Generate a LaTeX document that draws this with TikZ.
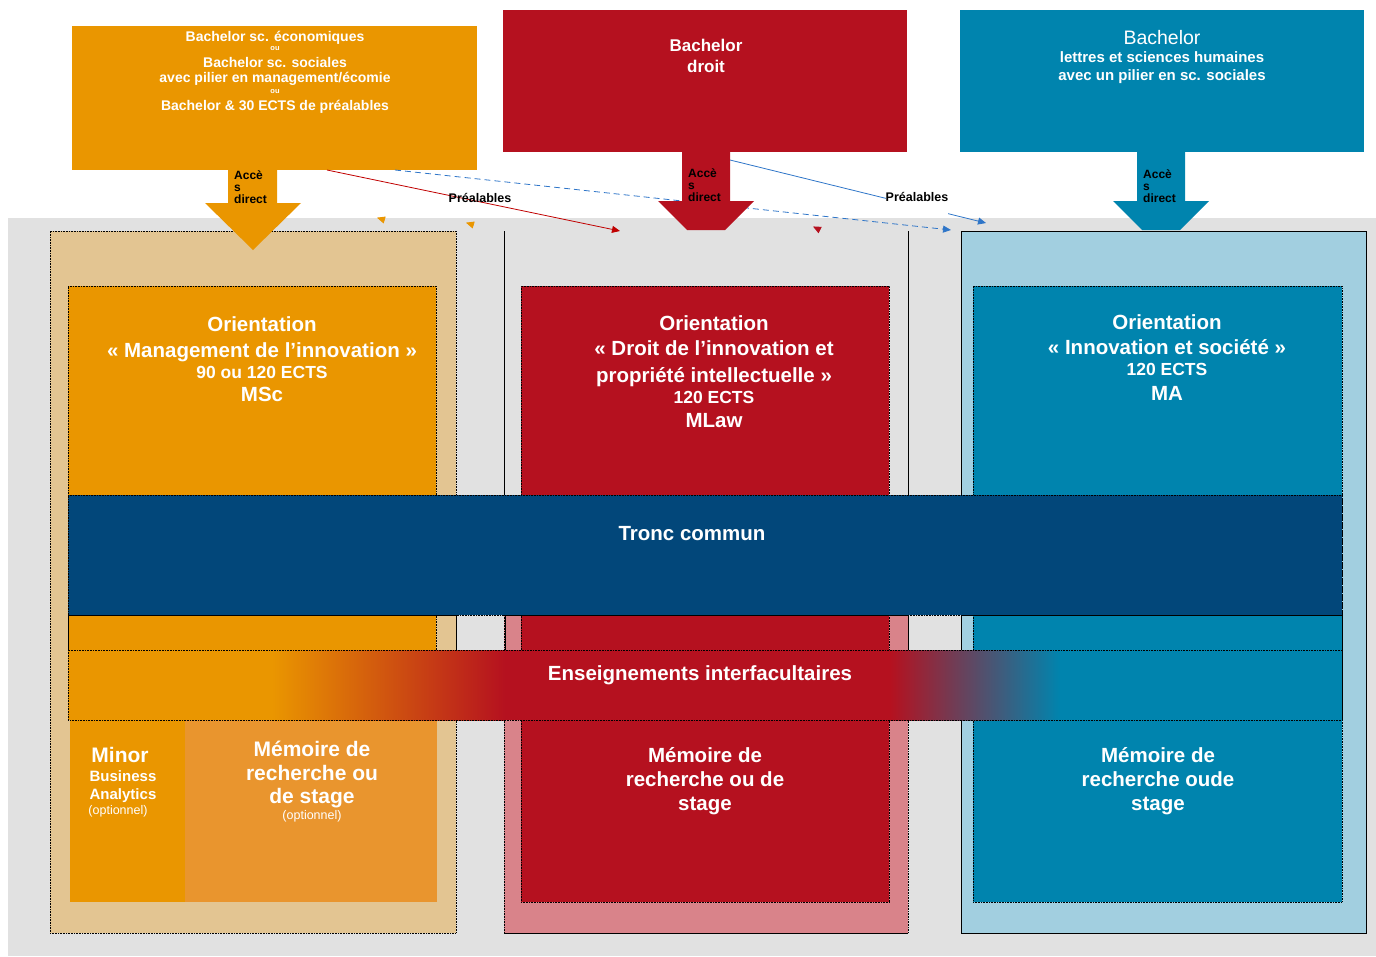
\documentclass[tikz,border=0pt]{standalone}
\usepackage{fontspec}
\setmainfont{Liberation Sans}
\usetikzlibrary{positioning,arrows.meta}
\definecolor{orMain}{RGB}{234,150,0}
\definecolor{orLight}{RGB}{233,149,46}
\definecolor{orPale}{RGB}{227,197,146}
\definecolor{rdMain}{RGB}{181,17,31}
\definecolor{rdPale}{RGB}{217,131,138}
\definecolor{blMain}{RGB}{0,132,174}
\definecolor{blPale}{RGB}{162,207,224}
\definecolor{trNavy}{RGB}{2,71,122}
\definecolor{bgGrey}{RGB}{225,225,225}
\definecolor{lnBlue}{RGB}{46,117,200}
\definecolor{lnRed}{RGB}{192,0,0}
\newcommand{\fsz}[1]{\fontsize{#1}{#1}\selectfont}
\tikzset{
  box/.style={inner sep=0pt, outer sep=0pt, anchor=north west},
  ln/.style={text=white, font=\fsz{#1}\bfseries, inner sep=0pt, text height=0.72*#1pt, text depth=0pt},
  acc/.style={font=\fsz{12}\bfseries, align=left, inner sep=0pt, anchor=north west},
  prl/.style={font=\fsz{12.5}\bfseries, inner sep=0pt},
  tip/.style={-{Triangle[length=8pt,width=7pt]}, line width=0.8pt},
  dots/.style={draw, densely dotted, line width=0.6pt}
}

\begin{document}
\begin{tikzpicture}[x=1pt, y=-1pt]
        \useasboundingbox (0,0) rectangle (1376,956);
        \fill[bgGrey] (8,218) rectangle (1376,956);

        % bachelors
        \node[box, fill=orMain, minimum width=405pt, minimum height=144pt] (BE) at (72,26) {};
        \node[box, fill=rdMain, minimum width=404pt, minimum height=142pt] (BD) at (503,10) {};
        \node[box, fill=blMain, minimum width=404pt, minimum height=142pt] (BL) at (960,10) {};

        \node[ln=14] (BE1) at ([shift={(0.5,10)}]BE.north) {Bachelor sc. économiques};
        \node[ln=7.5, on grid, below=12pt of BE1] (BE2) {ou};
        \node[ln=14, on grid, below=14pt of BE2] (BE3) {Bachelor sc. sociales};
        \node[ln=14, on grid, below=15pt of BE3] (BE4) {avec pilier en management/écomie};
        \node[ln=7.5, on grid, below=14pt of BE4] (BE5) {ou};
        \node[ln=14, on grid, below=14pt of BE5] (BE6) {Bachelor \& 30 ECTS de préalables};

        \node[ln=17] (BD1) at ([shift={(1,35)}]BD.north) {Bachelor};
        \node[ln=17, on grid, below=21pt of BD1] (BD2) {droit};

        \node[ln=19.5, font=\fsz{19.5}] (BL1) at ([shift={(0,27)}]BL.north) {Bachelor};
        \node[ln=15, on grid, below=20pt of BL1] (BL2) {lettres et sciences humaines};
        \node[ln=15, on grid, below=18pt of BL2] (BL3) {avec un pilier en sc. sociales};

        % prealables
        \coordinate (RedEnd) at (620,231);
        \coordinate (DashEnd) at (951,230);
        \coordinate (ShaftD) at (730,160);
        \coordinate (BlueEnd) at (986,223);
        \draw[tip, lnRed] ([xshift=255pt]BE.south west) -- (RedEnd);
        \draw[tip, lnBlue, dash pattern=on 6pt off 4pt] ([xshift=323pt]BE.south west) -- (DashEnd);
        \draw[tip, lnBlue] (ShaftD) -- (BlueEnd);
        \node[prl] (PrA) at (480,198) {Préalables};
        \node[prl, fill=white, anchor=base, text height=9pt, text depth=14pt] (PrB) at (917,201.5) {Préalables};

        \coordinate (TipA) at (378,218);
        \coordinate (TipB) at (467,223);
        \coordinate (TipC) at (814,227);
        \draw[tip, orMain] (TipA) -- ++(-1,-0.3);
        \draw[tip, orMain] (TipB) -- ++(-1,-0.3);
        \draw[tip, rdMain] (TipC) -- ++(-1,-0.5);

        % columns
        \node[box, fill=orPale, dots, minimum width=406pt, minimum height=702pt] (CM) at (50,231) {};
        \node[box, minimum width=404pt, minimum height=702pt] (CD) at (504,231) {};
        \fill[rdPale] ([yshift=-384pt]CD.north west) rectangle (CD.south east);
        \draw[line width=0.8pt] (CD.north west) -- ++(0,384);
        \draw[line width=0.8pt] (CD.north east) -- ++(0,384);
        \draw[densely dotted, line width=0.6pt] ([yshift=-384pt]CD.north west) -- (CD.south west);
        \draw[densely dotted, line width=0.6pt] ([yshift=-384pt]CD.north east) -- (CD.south east);
        \draw[line width=1pt] (CD.south west) -- (CD.south east);
        \node[box, fill=blPale, draw, line width=0.8pt, minimum width=405pt, minimum height=702pt] (CL) at (961,231) {};

        % acces direct
        \fill[orMain] (228,170) -- (277,170) -- (277,203) -- (301,203) -- (253,250) -- (205,203) -- (228,203) -- cycle;
        \fill[rdMain] (682,152) -- (730,152) -- (730,201) -- (754,201) -- (725,230) -- (687,230) -- (658,201) -- (682,201) -- cycle;
        \fill[blMain] (1137,152) -- (1185,152) -- (1185,201) -- (1209,201) -- (1180,230) -- (1142,230) -- (1113,201) -- (1137,201) -- cycle;
        \node[acc] (AE) at (234,170) {Accè\\s\\direct};
        \node[acc] (AD) at (688,168) {Accè\\s\\direct};
        \node[acc] (AL) at (1143,169) {Accè\\s\\direct};

        % orientations
        \node[box, fill=orMain, dots, minimum width=368pt, minimum height=364pt] (OM) at (68,286) {};
        \node[box, fill=orMain, minimum width=115pt, minimum height=182pt] (MN) at (70,720) {};
        \node[box, fill=orLight, minimum width=252pt, minimum height=182pt] (MM) at (185,720) {};
        \node[box, fill=rdMain, dots, minimum width=368pt, minimum height=616pt] (OD) at (521,286) {};
        \node[box, fill=blMain, dots, minimum width=369pt, minimum height=616pt] (OL) at (973,286) {};
        \draw[line width=0.8pt] (68,615) rectangle (456,650);
        \draw[line width=0.8pt] (505,615) rectangle (908,650);
        \draw[line width=0.8pt] (961,615) rectangle (1342,650);

        \node[ln=20.5] (OM1) at ([shift={(10,38)}]OM.north) {Orientation};
        \node[ln=20.5, on grid, below=26pt of OM1] (OM2) {« Management de l’innovation »};
        \node[ln=17.5, on grid, below=22pt of OM2] (OM3) {90 ou 120 ECTS};
        \node[ln=20.5, on grid, below=22pt of OM3] (OM4) {MSc};

        \node[ln=20.5] (OD1) at ([shift={(9,37)}]OD.north) {Orientation};
        \node[ln=20.5, on grid, below=25pt of OD1] (OD2) {« Droit de l’innovation et};
        \node[ln=20.5, on grid, below=27pt of OD2] (OD3) {propriété intellectuelle »};
        \node[ln=17.5, on grid, below=22pt of OD3] (OD4) {120 ECTS};
        \node[ln=20.5, on grid, below=23pt of OD4] (OD5) {MLaw};

        \node[ln=20.5] (OL1) at ([shift={(9.5,36)}]OL.north) {Orientation};
        \node[ln=20.5, on grid, below=25pt of OL1] (OL2) {« Innovation et société »};
        \node[ln=17.5, on grid, below=22pt of OL2] (OL3) {120 ECTS};
        \node[ln=20.5, on grid, below=24pt of OL3] (OL4) {MA};

        % tronc commun + interfacultaire
        \node[box, fill=trNavy, dots, minimum width=1274pt, minimum height=120pt] (TC) at (68,495) {};
        \node[box, minimum width=1274pt, minimum height=70pt] (EI) at (68,650) {};
        \fill[orMain] (EI.north west) rectangle (272,720);
        \shade[left color=orMain, right color=rdMain] (272,650) rectangle (505,720);
        \fill[rdMain] (505,650) rectangle (890,720);
        \shade[left color=rdMain, right color=blMain] (890,650) rectangle (1060,720);
        \fill[blMain] (1060,650) rectangle (EI.south east);
        \draw[densely dotted, line width=0.6pt] (EI.north west) rectangle (EI.south east);
        \node[ln=20.5] (TCT) at ([shift={(-13,38)}]TC.north) {Tronc commun};
        \node[ln=20.5] (EIT) at ([shift={(-5,23)}]EI.north) {Enseignements interfacultaires};

        % minor + memoires
        \node[ln=21] (MN1) at ([shift={(-7.5,35)}]MN.north) {Minor};
        \node[ln=15, on grid, below right=21pt and 3pt of MN1] (MN2) {Business};
        \node[ln=15, on grid, below=18pt of MN2] (MN3) {Analytics};
        \node[ln=12.5, font=\fsz{12.5}, on grid, below left=16pt and 5pt of MN3] (MN4) {(optionnel)};

        \node[ln=21] (MM1) at ([shift={(1,29)}]MM.north) {Mémoire de};
        \node[ln=21, on grid, below=24pt of MM1] (MM2) {recherche ou};
        \node[ln=21, on grid, below=23pt of MM2] (MM3) {de stage};
        \node[ln=12.5, font=\fsz{12.5}, on grid, below=19pt of MM3] (MM4) {(optionnel)};

        \node[ln=20.5] (DM1) at ([shift={(0,35)}]EI.south) {Mémoire de};
        \node[ln=20.5, on grid, below=24pt of DM1] (DM2) {recherche ou de};
        \node[ln=20.5, on grid, below=24pt of DM2] (DM3) {stage};

        \coordinate (LM) at (EI.south -| OL.north);
        \node[ln=20.5] (LM1) at ([shift={(0.5,35)}]LM) {Mémoire de};
        \node[ln=20.5, on grid, below=24pt of LM1] (LM2) {recherche oude};
        \node[ln=20.5, on grid, below=24pt of LM2] (LM3) {stage};
\end{tikzpicture}
\end{document}
